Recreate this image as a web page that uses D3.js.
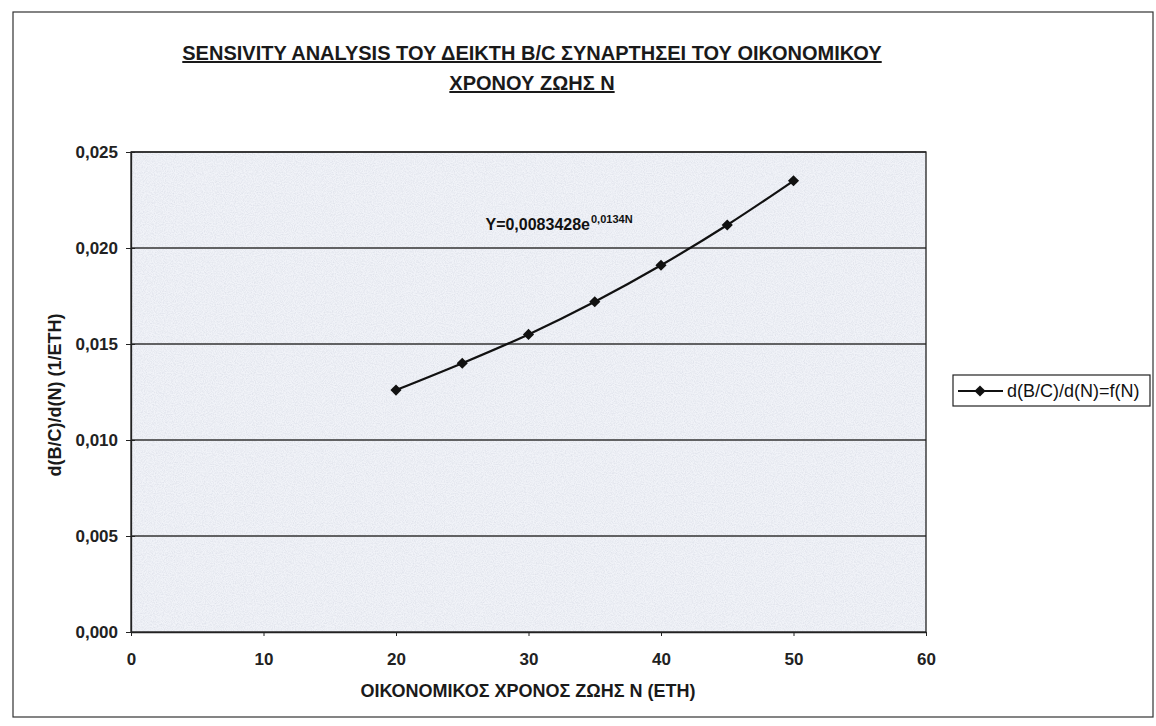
<!DOCTYPE html>
<html><head><meta charset="utf-8">
<script src="https://cdn.jsdelivr.net/npm/d3@7"></script>
<style>body{margin:0;background:#fff;} text{font-family:"Liberation Sans",Arial,sans-serif;}</style>
</head><body>
<svg id="c" width="1156" height="726"></svg>
<script>
const titleLines = ["SENSIVITY ANALYSIS ΤΟΥ ΔΕΙΚΤΗ B/C ΣΥΝΑΡΤΗΣΕΙ ΤΟΥ ΟΙΚΟΝΟΜΙΚΟΥ", "ΧΡΟΝΟΥ ΖΩΗΣ Ν"];
const xTitle = "ΟΙΚΟΝΟΜΙΚΟΣ ΧΡΟΝΟΣ ΖΩΗΣ Ν (ΕΤΗ)";
const yTitle = "d(B/C)/d(N) (1/ETH)";
const seriesName = "d(B/C)/d(N)=f(N)";
const N = [20, 25, 30, 35, 40, 45, 50];
const values = [0.0126, 0.0140, 0.0155, 0.0172, 0.0191, 0.0212, 0.0235];
const xTicks = [0, 10, 20, 30, 40, 50, 60];
const yTicks = [0, 0.005, 0.010, 0.015, 0.020, 0.025];
const eqMain = "Y=0,0083428e";
const eqExp = "0,0134N";

const svg = d3.select("#c");
svg.append("rect").attr("x",13).attr("y",12).attr("width",1140).attr("height",705)
  .attr("fill","#fff").attr("stroke","#333").attr("stroke-width",1.2);

const L=131, R=926, T=152, B=632;
const x = d3.scaleLinear().domain([0,60]).range([L,R]);
const y = d3.scaleLinear().domain([0,0.025]).range([B,T]);

const defs = svg.append("defs");
const f = defs.append("filter").attr("id","noise").attr("x",0).attr("y",0).attr("width","100%").attr("height","100%");
f.append("feTurbulence").attr("type","fractalNoise").attr("baseFrequency",0.9).attr("numOctaves",2).attr("seed",3).attr("result","t");
f.append("feColorMatrix").attr("in","t").attr("type","matrix")
  .attr("values","0 0 0 0 0.55  0 0 0 0 0.58  0 0 0 0 0.68  0 0 0 -1.6 1.05").attr("result","n");
f.append("feComposite").attr("in","n").attr("in2","SourceGraphic").attr("operator","in");

svg.append("rect").attr("x",L).attr("y",T).attr("width",R-L).attr("height",B-T).attr("fill","#f1f3f8");
svg.append("rect").attr("x",L).attr("y",T).attr("width",R-L).attr("height",B-T).attr("fill","#fff").attr("filter","url(#noise)").attr("opacity",0.45);

svg.append("g").selectAll("line").data(yTicks.filter(d=>d>0)).join("line")
  .attr("x1",L).attr("x2",R).attr("y1",d=>y(d)).attr("y2",d=>y(d))
  .attr("stroke","#333").attr("stroke-width",1.3);

svg.append("rect").attr("x",L).attr("y",T).attr("width",R-L).attr("height",B-T)
  .attr("fill","none").attr("stroke","#222").attr("stroke-width",1.3);

const fmtY = d => d3.format(".3f")(d).replace(".",",");
const yAx = svg.append("g").attr("transform",`translate(${L},0)`)
  .call(d3.axisLeft(y).tickValues(yTicks).tickFormat(fmtY).tickSizeInner(5).tickSizeOuter(0).tickPadding(8));
yAx.selectAll(".tick line").attr("x1",4);
const xAx = svg.append("g").attr("transform",`translate(0,${B})`)
  .call(d3.axisBottom(x).tickValues(xTicks).tickFormat(d3.format("d")).tickSizeInner(4).tickSizeOuter(0).tickPadding(17));
[yAx,xAx].forEach(g=>{
  g.select(".domain").attr("stroke","#222").attr("stroke-width",1.3);
  g.selectAll(".tick line").attr("stroke","#222");
  g.selectAll("text").attr("font-family","Liberation Sans, Arial, sans-serif").attr("font-size",17).attr("font-weight","bold").attr("fill","#222");
});

const line = d3.line().x((d,i)=>x(N[i])).y(d=>y(d)).curve(d3.curveCatmullRom.alpha(0.5));
svg.append("path").datum(values).attr("d",line).attr("fill","none").attr("stroke","#111").attr("stroke-width",2.2);
const sym = d3.symbol().type(d3.symbolSquare).size(62);
svg.append("g").selectAll("path").data(values).join("path")
  .attr("d",sym).attr("transform",(d,i)=>`translate(${x(N[i])},${y(d)}) rotate(45)`).attr("fill","#111");

const eq = svg.append("text").attr("x",590).attr("y",230).attr("text-anchor","end").attr("font-size",16).attr("font-weight","bold").attr("fill","#111").text(eqMain);
svg.append("text").attr("x",591).attr("y",223).attr("font-size",11).attr("font-weight","bold").attr("fill","#111").text(eqExp);

svg.append("g").selectAll("text").data(titleLines).join("text")
  .attr("x",532).attr("y",(d,i)=>60+i*30).attr("text-anchor","middle")
  .attr("font-size",20).attr("font-weight","bold").attr("text-decoration","underline").attr("fill","#1a1a1a").text(d=>d);

svg.append("text").attr("x",528).attr("y",697).attr("text-anchor","middle")
  .attr("font-size",18).attr("font-weight","bold").attr("fill","#1a1a1a").text(xTitle);
svg.append("text").attr("transform","translate(61,395) rotate(-90)").attr("text-anchor","middle")
  .attr("font-size",18).attr("font-weight","bold").attr("fill","#1a1a1a").text(yTitle);

const lg = svg.append("g");
lg.append("rect").attr("x",953).attr("y",375).attr("width",197).attr("height",31).attr("fill","#fff").attr("stroke","#222").attr("stroke-width",1.2);
lg.append("line").attr("x1",958).attr("x2",1003).attr("y1",391).attr("y2",391).attr("stroke","#111").attr("stroke-width",2.2);
lg.append("path").attr("d",sym).attr("transform","translate(980,391) rotate(45)").attr("fill","#111");
lg.append("text").attr("x",1007).attr("y",397).attr("font-size",18).attr("fill","#111").text(seriesName);
</script>
</body></html>
